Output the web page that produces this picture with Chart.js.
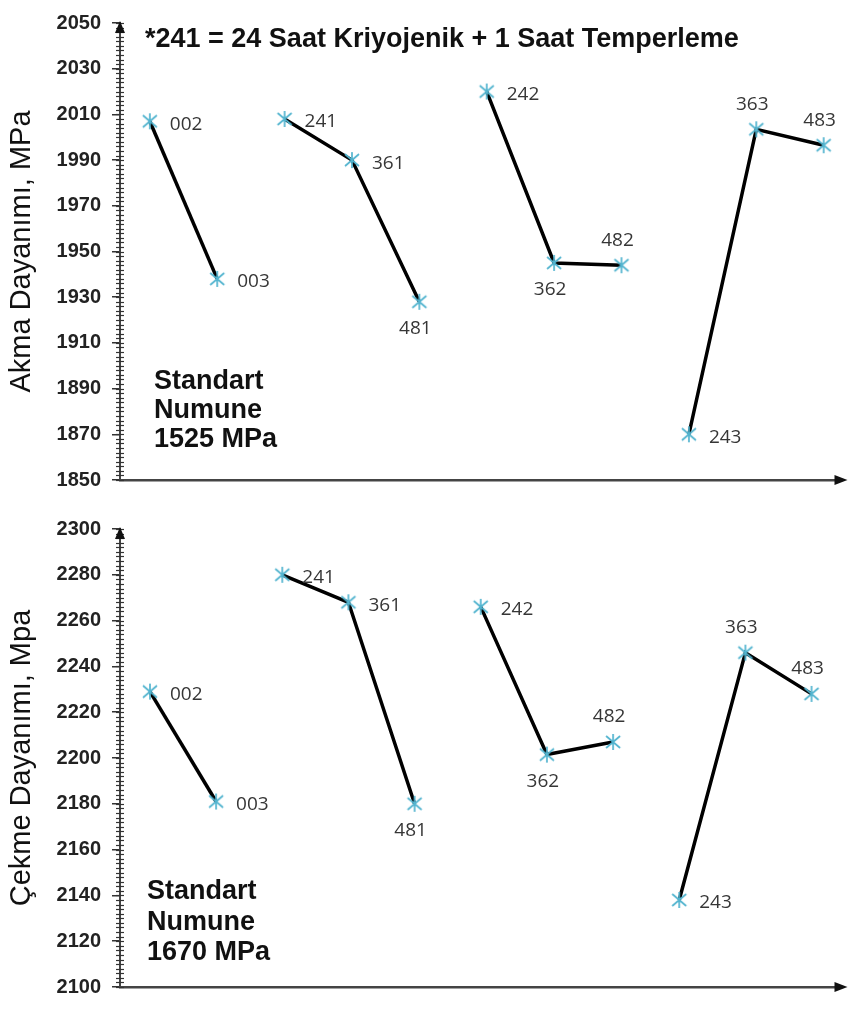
<!DOCTYPE html>
<html>
<head>
<meta charset="utf-8">
<script src="https://cdn.jsdelivr.net/npm/chart.js@4.4.0/dist/chart.umd.min.js"></script>
<style>
  body { margin: 0; background: #fff; }
  #wrap { position: relative; width: 854px; height: 1010px; }
  .box { position: absolute; left: 0; width: 854px; height: 505px; }
</style>
</head>
<body>
<div id="wrap">
  <div class="box" style="top:0"><canvas id="chartAkma"></canvas></div>
  <div class="box" style="top:505px"><canvas id="chartCekme"></canvas></div>
</div>
<script>
// numune kodlari ve gruplari (ayni gruptakiler cizgiyle baglaniyor)
const samples = ['002', '003', '241', '361', '481', '242', '362', '482', '243', '363', '483'];
const groups = [0, 0, 1, 1, 1, 2, 2, 2, 3, 3, 3];
const akma = [2007, 1938, 2008, 1990, 1928, 2020, 1945, 1944, 1870, 2003.5, 1996.5];
const cekme = [2229, 2181, 2280, 2268, 2180, 2266, 2201.5, 2207, 2138, 2246, 2228];
const akmaTicks = [1850, 2050, 20];
const cekmeTicks = [2100, 2300, 20];
// etiket yeri: r = sag, b = alt, a = ust
const akmaLabelPos = ['r', 'r', 'r', 'r', 'b', 'r', 'b', 'a', 'r', 'a', 'a'];
const cekmeLabelPos = ['r', 'r', 'r', 'r', 'b', 'r', 'b', 'a', 'r', 'a', 'a'];

const family = '"Liberation Sans", Arial, sans-serif';

function starMarker() {
    const c = document.createElement('canvas');
    c.width = 18; c.height = 18;
    const g = c.getContext('2d');
    g.strokeStyle = '#52b4cf';
    g.lineWidth = 1.7;
    g.beginPath();
    g.moveTo(2, 3); g.lineTo(16, 15);
    g.moveTo(16, 3); g.lineTo(2, 15);
    g.moveTo(9, 1); g.lineTo(9, 17);
    g.stroke();
    return c;
}
const marker = starMarker();

const axisDeco = {
    id: 'axisDeco',
    afterDatasetsDraw(chart, args, opts) {
        const ctx = chart.ctx;
        ctx.save();
        ctx.font = '19px "Open Sans", sans-serif';
        ctx.fillStyle = '#363636';
        ctx.textBaseline = 'middle';
        chart.data.datasets.forEach((ds, di) => {
            chart.getDatasetMeta(di).data.forEach((pt, j) => {
                const raw = ds.data[j];
                const pos = opts.pos[raw.x];
                if (pos === 'r') {
                    ctx.textAlign = 'left';
                    ctx.fillText(samples[raw.x], pt.x + 20, pt.y + 3);
                } else {
                    ctx.textAlign = 'center';
                    ctx.fillText(samples[raw.x], pt.x - 4, pos === 'b' ? pt.y + 27 : pt.y - 25);
                }
            });
        });
        ctx.restore();
    },
    afterDraw(chart, args, opts) {
        const ctx = chart.ctx, y = chart.scales.y, a = chart.chartArea;
        ctx.save();
        // ara cizgiler, her 2 MPa
        ctx.strokeStyle = '#333';
        ctx.lineWidth = 1.2;
        const n = Math.round((y.max - y.min) / 2);
        for (let k = 0; k <= n; k++) {
            const py = Math.round(y.getPixelForValue(y.min + k * 2)) + 0.5;
            ctx.beginPath();
            ctx.moveTo(a.left - 4, py);
            ctx.lineTo(a.left + 4, py);
            ctx.stroke();
        }
        // ok uclari
        ctx.fillStyle = '#111';
        ctx.beginPath();
        ctx.moveTo(a.left, a.top - 2);
        ctx.lineTo(a.left - 5, a.top + 10);
        ctx.lineTo(a.left + 5, a.top + 10);
        ctx.fill();
        ctx.beginPath();
        ctx.moveTo(a.right + 6, a.bottom);
        ctx.lineTo(a.right - 7, a.bottom - 5);
        ctx.lineTo(a.right - 7, a.bottom + 5);
        ctx.fill();
        // notlar
        ctx.fillStyle = '#111';
        ctx.textAlign = 'left';
        ctx.textBaseline = 'middle';
        if (opts.header) {
            ctx.font = 'bold 27px ' + family;
            ctx.fillText(opts.header, 145, 40);
        }
        ctx.font = 'bold 27px ' + family;
        opts.notes.forEach((t, i) => ctx.fillText(t, opts.noteX, opts.noteY + i * opts.noteGap));
        ctx.restore();
    }
};

function makeChart(id, values, ticks, yTitle, deco, xMin, xMax, pad) {
    const datasets = [0, 1, 2, 3].map(g => ({
        data: values.map((v, i) => ({ x: i, y: v })).filter(p => groups[p.x] === g),
        borderColor: '#000',
        borderWidth: 3.5,
        pointStyle: marker,
        pointRadius: 9,
        fill: false,
        tension: 0
    }));
    return new Chart(document.getElementById(id), {
        type: 'line',
        data: { datasets: datasets },
        options: {
            responsive: true,
            maintainAspectRatio: false,
            animation: false,
            layout: { padding: pad },
            plugins: {
                legend: { display: false },
                tooltip: { enabled: false },
                axisDeco: deco
            },
            scales: {
                x: {
                    type: 'linear',
                    min: xMin,
                    max: xMax,
                    ticks: { display: false },
                    grid: { display: false, drawTicks: false },
                    border: { display: true, color: '#444', width: 2.5 }
                },
                y: {
                    min: ticks[0],
                    max: ticks[1],
                    ticks: {
                        stepSize: ticks[2],
                        padding: 11,
                        color: '#222',
                        format: { useGrouping: false },
                        font: { family: family, size: 20, weight: 'bold' }
                    },
                    grid: { drawOnChartArea: false, drawTicks: true, tickLength: 8, color: '#333', lineWidth: 1.5 },
                    border: { display: true, color: '#444', width: 2 },
                    title: {
                        display: true,
                        text: yTitle,
                        color: '#111',
                        padding: { top: 5 },
                        font: { family: family, size: 29 }
                    },
                    afterFit(s) { s.width = 120; }
                }
            }
        },
        plugins: [axisDeco]
    });
}

makeChart('chartAkma', akma, akmaTicks, 'Akma Dayanımı, MPa', {
    pos: akmaLabelPos,
    header: '*241 = 24 Saat Kriyojenik + 1 Saat Temperleme',
    notes: ['Standart', 'Numune', '1525 MPa'],
    noteX: 154, noteY: 382, noteGap: 29
}, -0.4425, 10.265, { top: 20, right: 8, bottom: 25, left: 0 });

makeChart('chartCekme', cekme, cekmeTicks, 'Çekme Dayanımı, Mpa', {
    pos: cekmeLabelPos,
    header: null,
    notes: ['Standart', 'Numune', '1670 MPa'],
    noteX: 147, noteY: 387, noteGap: 30.5
}, -0.4525, 10.4525, { top: 24, right: 11, bottom: 12, left: 0 });
</script>
</body>
</html>
